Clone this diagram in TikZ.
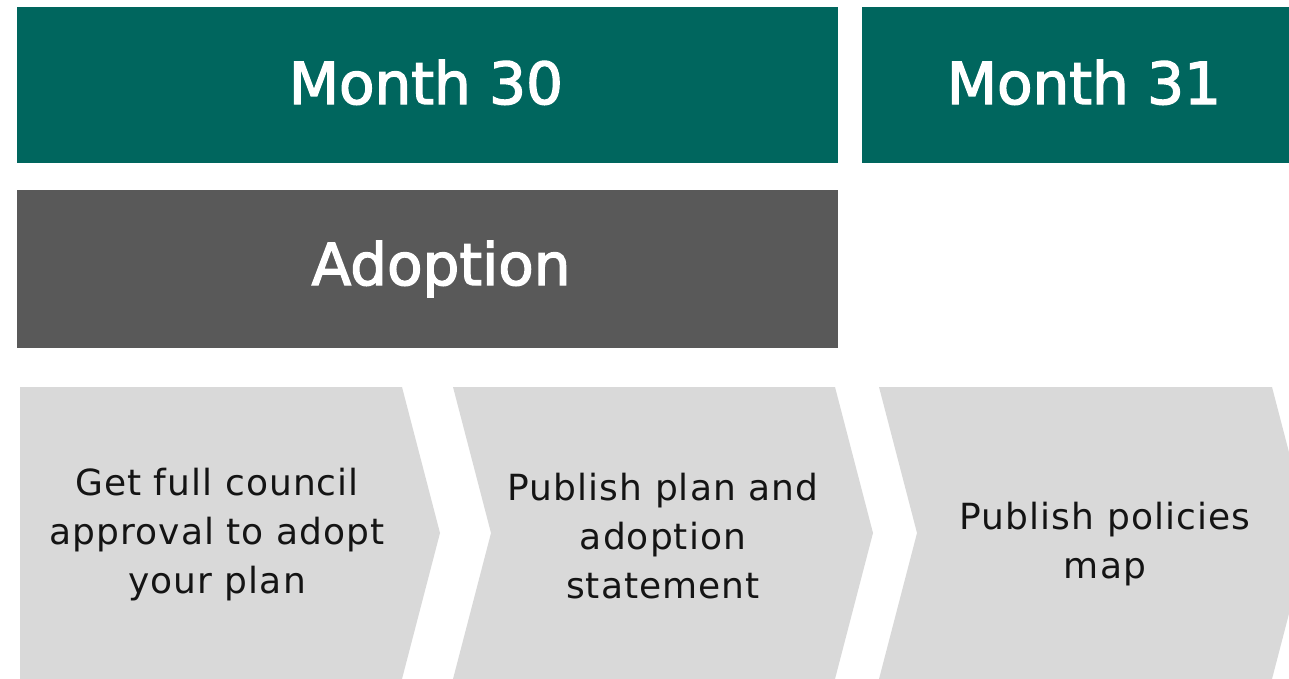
\documentclass[tikz,border=0pt]{standalone}
\usepackage{fontspec}
\setmainfont{DejaVu Sans}[LetterSpace=3]
\newfontfamily\hfont{DejaVu Sans}[FakeBold=2.4]
\definecolor{teal}{RGB}{0,102,94}
\definecolor{darkg}{RGB}{89,89,89}
\definecolor{lightg}{RGB}{217,217,217}
\definecolor{txt}{RGB}{20,20,20}
\begin{document}
\begin{tikzpicture}[x=1pt,y=-1pt,
  hdr/.style={fill=teal,draw=none},
  phase/.style={fill=darkg,draw=none},
  chev/.style={fill=lightg,draw=none},
  htext/.style={text=white,font=\hfont\fontsize{58}{64}\selectfont,inner sep=0pt,anchor=base},
  btext/.style={text=txt,font=\fontsize{36}{49}\selectfont,align=center,inner sep=0pt}]
\useasboundingbox (0,0) rectangle (1289,678);
\begin{scope}
\clip (0,0) rectangle (1289,678);
\fill[hdr] (17,7) rectangle (838,163);
\fill[hdr] (862,7) rectangle (1305,163);
\fill[phase] (17,190) rectangle (838,348);
\fill[chev] (20,387) -- (402,387) -- (440,533) -- (402,679) -- (20,679) -- cycle;
\fill[chev] (453,387) -- (835,387) -- (873,533) -- (835,679) -- (453,679) -- (491,533) -- cycle;
\fill[chev] (879,387) -- (1272,387) -- (1310,533) -- (1272,679) -- (879,679) -- (917,533) -- cycle;
\end{scope}
\node[htext] (m30) at (426,104) {Month 30};
\node[htext] (m31) at (1084,104) {Month 31};
\node[htext] (ad) at (441,285) {Adoption};
\node[btext] (s1) at (217,535) {Get full council\\approval to adopt\\your plan};
\node[btext] (s2) at (663,536) {Publish plan and\\adoption\\statement};
\node[btext] (s3) at (1105,544) {Publish policies\\map};
\end{tikzpicture}
\end{document}
